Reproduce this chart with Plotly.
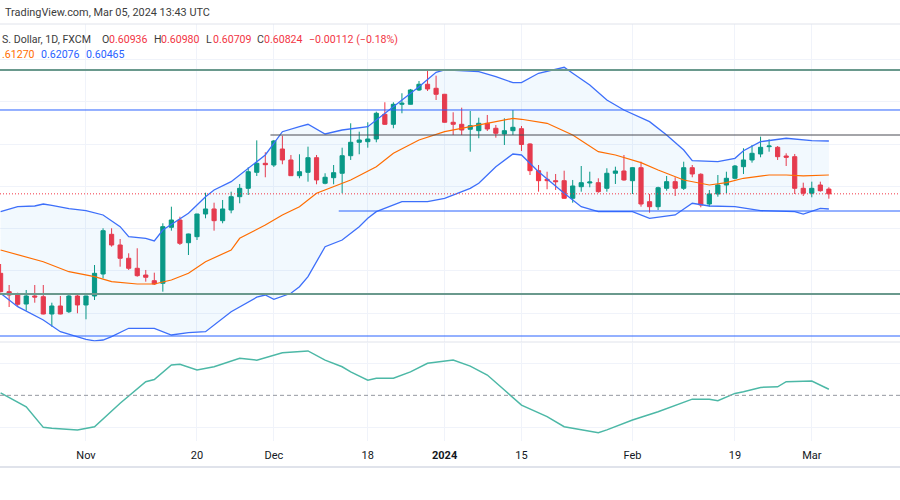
import plotly.graph_objects as go

# ---------------- data ----------------
dates = [
    "2023-10-18", "2023-10-19", "2023-10-20", "2023-10-23", "2023-10-24", "2023-10-25", "2023-10-26", "2023-10-27", "2023-10-30", "2023-10-31",
    "2023-11-01", "2023-11-02", "2023-11-03", "2023-11-06", "2023-11-07", "2023-11-08", "2023-11-09", "2023-11-10", "2023-11-13", "2023-11-14",
    "2023-11-15", "2023-11-16", "2023-11-17", "2023-11-20", "2023-11-21", "2023-11-22", "2023-11-23", "2023-11-24", "2023-11-27", "2023-11-28",
    "2023-11-29", "2023-11-30", "2023-12-01", "2023-12-04", "2023-12-05", "2023-12-06", "2023-12-07", "2023-12-08", "2023-12-11", "2023-12-12",
    "2023-12-13", "2023-12-14", "2023-12-15", "2023-12-18", "2023-12-19", "2023-12-20", "2023-12-21", "2023-12-22", "2023-12-26", "2023-12-27",
    "2023-12-28", "2023-12-29", "2024-01-02", "2024-01-03", "2024-01-04", "2024-01-05", "2024-01-08", "2024-01-09", "2024-01-10", "2024-01-11",
    "2024-01-12", "2024-01-15", "2024-01-16", "2024-01-17", "2024-01-18", "2024-01-19", "2024-01-22", "2024-01-23", "2024-01-24", "2024-01-25",
    "2024-01-26", "2024-01-29", "2024-01-30", "2024-01-31", "2024-02-01", "2024-02-02", "2024-02-05", "2024-02-06", "2024-02-07", "2024-02-08",
    "2024-02-09", "2024-02-12", "2024-02-13", "2024-02-14", "2024-02-15", "2024-02-16", "2024-02-19", "2024-02-20", "2024-02-21", "2024-02-22",
    "2024-02-23", "2024-02-26", "2024-02-27", "2024-02-28", "2024-02-29", "2024-03-01", "2024-03-04", "2024-03-05",
]

opens = [
    0.58941, 0.58506, 0.58444, 0.58214, 0.58404, 0.58387, 0.57977, 0.58167, 0.58032, 0.58404,
    0.58191, 0.58404, 0.58925, 0.59865, 0.59612, 0.59297, 0.59060, 0.58901, 0.58766, 0.58705,
    0.60031, 0.60204, 0.59666, 0.59809, 0.60346, 0.60465, 0.60188, 0.60441, 0.60756, 0.60955,
    0.61334, 0.61547, 0.61507, 0.61886, 0.61626, 0.61254, 0.61334, 0.61680, 0.61074, 0.61206,
    0.61311, 0.61727, 0.62045, 0.62059, 0.62123, 0.62708, 0.62471, 0.62945, 0.62945, 0.63284,
    0.63419, 0.63324, 0.63182, 0.62519, 0.62471, 0.62353, 0.62320, 0.62495, 0.62377, 0.62242,
    0.62320, 0.62367, 0.62005, 0.61372, 0.61168, 0.61135, 0.61135, 0.60718, 0.60993, 0.61081,
    0.61088, 0.60955, 0.61311, 0.61365, 0.61135, 0.61443, 0.60638, 0.60519, 0.60955, 0.61112,
    0.60955, 0.61443, 0.61287, 0.60583, 0.60820, 0.61033, 0.61192, 0.61467, 0.61626, 0.61768,
    0.61941, 0.61926, 0.61720, 0.61704, 0.60955, 0.60837, 0.61033, 0.60936,
]
highs = [
    0.59162, 0.58664, 0.58482, 0.58546, 0.58664, 0.58664, 0.58245, 0.58404, 0.58427, 0.58468,
    0.58410, 0.59138, 0.60008, 0.60008, 0.59754, 0.59415, 0.59534, 0.59020, 0.58956, 0.60126,
    0.60519, 0.60282, 0.59880, 0.60350, 0.60851, 0.60614, 0.60678, 0.60875, 0.61057, 0.61453,
    0.62090, 0.61808, 0.62099, 0.62201, 0.61744, 0.61761, 0.61941, 0.61744, 0.61311, 0.61507,
    0.61917, 0.62495, 0.62296, 0.62519, 0.62770, 0.62993, 0.62993, 0.63206, 0.63308, 0.63497,
    0.63734, 0.63623, 0.63190, 0.62756, 0.62865, 0.62786, 0.62628, 0.62692, 0.62455, 0.62613,
    0.62810, 0.62431, 0.62021, 0.61507, 0.61348, 0.61294, 0.61372, 0.61152, 0.61483, 0.61348,
    0.61192, 0.61429, 0.61467, 0.61744, 0.61453, 0.61585, 0.60820, 0.60993, 0.61247, 0.61216,
    0.61585, 0.61507, 0.61311, 0.60915, 0.61270, 0.61348, 0.61507, 0.61903, 0.61981, 0.62178,
    0.62116, 0.61957, 0.61784, 0.61768, 0.61088, 0.61112, 0.61112, 0.60980,
]
lows = [
    0.58490, 0.58143, 0.58143, 0.58056, 0.58245, 0.57970, 0.57676, 0.57970, 0.58001, 0.57994,
    0.57852, 0.58309, 0.58823, 0.59572, 0.59098, 0.59020, 0.58861, 0.58743, 0.58664, 0.58506,
    0.59951, 0.59612, 0.59375, 0.59730, 0.60244, 0.59951, 0.60126, 0.60363, 0.60600, 0.60796,
    0.61247, 0.61216, 0.61460, 0.61524, 0.61250, 0.61192, 0.61112, 0.61050, 0.61050, 0.61050,
    0.60837, 0.61626, 0.61761, 0.61917, 0.62045, 0.62455, 0.62377, 0.62732, 0.62941, 0.63260,
    0.63260, 0.63047, 0.62510, 0.62218, 0.62218, 0.61822, 0.62140, 0.62313, 0.62154, 0.61981,
    0.62218, 0.61839, 0.61270, 0.60875, 0.60932, 0.60915, 0.60710, 0.60614, 0.60875, 0.60979,
    0.60851, 0.60875, 0.61057, 0.61135, 0.60820, 0.60519, 0.60377, 0.60441, 0.60898, 0.60773,
    0.60915, 0.61216, 0.60505, 0.60519, 0.60756, 0.60837, 0.61168, 0.61294, 0.61562, 0.61690,
    0.61822, 0.61626, 0.61483, 0.60820, 0.60773, 0.60742, 0.60875, 0.60709,
]
closes = [
    0.58506, 0.58427, 0.58207, 0.58404, 0.58380, 0.57977, 0.58167, 0.57977, 0.58404, 0.58191,
    0.58404, 0.58941, 0.59951, 0.59612, 0.59297, 0.59060, 0.58885, 0.58847, 0.58688, 0.60046,
    0.60204, 0.59652, 0.59873, 0.60346, 0.60465, 0.60188, 0.60465, 0.60756, 0.60955, 0.61348,
    0.61547, 0.61514, 0.62076, 0.61626, 0.61254, 0.61348, 0.61680, 0.61152, 0.61216, 0.61325,
    0.61727, 0.62045, 0.62099, 0.62123, 0.62732, 0.62471, 0.62945, 0.62969, 0.63284, 0.63419,
    0.63308, 0.63182, 0.62519, 0.62471, 0.62336, 0.62438, 0.62495, 0.62360, 0.62258, 0.62320,
    0.62400, 0.61993, 0.61372, 0.61135, 0.61135, 0.61112, 0.60718, 0.61010, 0.61088, 0.61104,
    0.60875, 0.61311, 0.61365, 0.61152, 0.61443, 0.60583, 0.60519, 0.60969, 0.61112, 0.60955,
    0.61443, 0.61294, 0.60560, 0.60820, 0.61033, 0.61192, 0.61483, 0.61626, 0.61784, 0.61926,
    0.61957, 0.61704, 0.61690, 0.60955, 0.60837, 0.60955, 0.60898, 0.60824,
]

upper_dates = [
    "2023-10-18", "2023-10-20", "2023-10-24", "2023-10-25", "2023-10-26", "2023-10-30", "2023-11-01", "2023-11-03",
    "2023-11-07", "2023-11-08", "2023-11-10", "2023-11-13", "2023-11-14", "2023-11-16", "2023-11-17", "2023-11-21",
    "2023-11-22", "2023-11-24", "2023-11-28", "2023-11-30", "2023-12-01", "2023-12-04", "2023-12-06", "2023-12-07",
    "2023-12-11", "2023-12-13", "2023-12-18", "2023-12-19", "2023-12-21", "2023-12-27", "2023-12-29", "2024-01-02",
    "2024-01-08", "2024-01-10", "2024-01-12", "2024-01-15", "2024-01-17", "2024-01-22", "2024-01-23", "2024-01-25",
    "2024-01-29", "2024-01-31", "2024-02-05", "2024-02-07", "2024-02-09", "2024-02-12", "2024-02-15", "2024-02-19",
    "2024-02-20", "2024-02-22", "2024-02-27", "2024-03-01", "2024-03-05",
]
upper_vals = [
    0.60401, 0.60519, 0.60536, 0.60583, 0.60553, 0.60472, 0.60425, 0.60323,
    0.60046, 0.59809, 0.59771, 0.59707, 0.59967, 0.60221, 0.60363, 0.60756,
    0.60915, 0.61112, 0.61429, 0.61744, 0.62021, 0.62296, 0.62415, 0.62471,
    0.62242, 0.62336, 0.62415, 0.62573, 0.62888, 0.63362, 0.63703, 0.63758,
    0.63717, 0.63599, 0.63457, 0.63457, 0.63680, 0.63822, 0.63680, 0.63402,
    0.63047, 0.62810, 0.62533, 0.62218, 0.61863, 0.61609, 0.61585, 0.61666,
    0.61846, 0.62059, 0.62140, 0.62083, 0.62076,
]

basis_dates = [
    "2023-10-18", "2023-10-20", "2023-10-25", "2023-10-30", "2023-11-02", "2023-11-06", "2023-11-09", "2023-11-13",
    "2023-11-15", "2023-11-17", "2023-11-21", "2023-11-24", "2023-11-27", "2023-11-30", "2023-12-04", "2023-12-06",
    "2023-12-08", "2023-12-14", "2023-12-19", "2023-12-21", "2023-12-27", "2024-01-02", "2024-01-05", "2024-01-10",
    "2024-01-12", "2024-01-15", "2024-01-18", "2024-01-23", "2024-01-25", "2024-01-26", "2024-01-30", "2024-02-02",
    "2024-02-06", "2024-02-09", "2024-02-14", "2024-02-16", "2024-02-20", "2024-02-23", "2024-02-27", "2024-02-29",
    "2024-03-05",
]
basis_vals = [
    0.59493, 0.59375, 0.59216, 0.58979, 0.58861, 0.58743, 0.58688, 0.58688,
    0.58783, 0.58941, 0.59216, 0.59493, 0.59771, 0.60086, 0.60323, 0.60519,
    0.60837, 0.61152, 0.61467, 0.61784, 0.62099, 0.62296, 0.62415, 0.62533,
    0.62613, 0.62590, 0.62495, 0.62218, 0.61941, 0.61822, 0.61744, 0.61562,
    0.61389, 0.61152, 0.61033, 0.61088, 0.61192, 0.61270, 0.61270, 0.61247,
    0.61270,
]

lower_dates = [
    "2023-10-18", "2023-10-20", "2023-10-25", "2023-10-27", "2023-11-01", "2023-11-02", "2023-11-03", "2023-11-06",
    "2023-11-08", "2023-11-13", "2023-11-15", "2023-11-17", "2023-11-21", "2023-11-24", "2023-11-29", "2023-11-30",
    "2023-12-01", "2023-12-05", "2023-12-06", "2023-12-07", "2023-12-11", "2023-12-13", "2023-12-15", "2023-12-18",
    "2023-12-19", "2023-12-22", "2023-12-28", "2024-01-02", "2024-01-05", "2024-01-08", "2024-01-10", "2024-01-12",
    "2024-01-15", "2024-01-17", "2024-01-22", "2024-01-24", "2024-01-26", "2024-02-01", "2024-02-05", "2024-02-08",
    "2024-02-12", "2024-02-14", "2024-02-19", "2024-02-22", "2024-02-28", "2024-02-29", "2024-03-04", "2024-03-05",
]
lower_vals = [
    0.58468, 0.58151, 0.57835, 0.57558, 0.57378, 0.57340, 0.57361, 0.57440,
    0.57639, 0.57639, 0.57480, 0.57534, 0.57558, 0.58032, 0.58375, 0.58427,
    0.58326, 0.58468, 0.58624, 0.58861, 0.59572, 0.59730, 0.60046, 0.60244,
    0.60401, 0.60638, 0.60638, 0.60718, 0.60955, 0.61074, 0.61467, 0.61768,
    0.61744, 0.61348, 0.60837, 0.60519, 0.60401, 0.60401, 0.60244, 0.60323,
    0.60600, 0.60536, 0.60519, 0.60425, 0.60401, 0.60346, 0.60481, 0.60465,
]

osc_dates = [
    "2023-10-18", "2023-10-23", "2023-10-25", "2023-10-26", "2023-10-31", "2023-11-02", "2023-11-07", "2023-11-10",
    "2023-11-13", "2023-11-15", "2023-11-16", "2023-11-20", "2023-11-22", "2023-11-27", "2023-11-29", "2023-12-04",
    "2023-12-07", "2023-12-11", "2023-12-13", "2023-12-14", "2023-12-18", "2023-12-19", "2023-12-21", "2023-12-26",
    "2023-12-28", "2024-01-03", "2024-01-05", "2024-01-09", "2024-01-11", "2024-01-15", "2024-01-18", "2024-01-22",
    "2024-01-23", "2024-01-26", "2024-01-29", "2024-02-01", "2024-02-06", "2024-02-08", "2024-02-12", "2024-02-14",
    "2024-02-15", "2024-02-19", "2024-02-20", "2024-02-22", "2024-02-26", "2024-02-27", "2024-03-01", "2024-03-05",
]
osc_vals = [
    0.08, -0.36, -1.01, -1.04, -1.09, -0.99, -0.25, 0.43,
    0.50, 0.96, 0.98, 0.80, 0.90, 1.17, 1.11, 1.34,
    1.40, 1.11, 0.90, 0.74, 0.48, 0.54, 0.54, 0.74,
    1.01, 1.11, 0.92, 0.64, 0.17, -0.31, -0.67, -0.99,
    -1.04, -1.18, -1.09, -0.78, -0.52, -0.31, -0.12, -0.12,
    -0.17, 0.06, 0.11, 0.25, 0.27, 0.43, 0.45, 0.19,
]

# horizontal drawing levels
level_green = [0.63758, 0.58451]
level_blue = [0.62810, 0.57456]
level_dark = 0.62218
level_dark_start = "2023-12-01"
level_blue_partial = 0.60417
level_blue_partial_start = "2023-12-13"

tick_dates = ["2023-11-01", "2023-11-20", "2023-12-01", "2023-12-18", "2024-01-02",
              "2024-01-15", "2024-02-01", "2024-02-19", "2024-03-01"]
tick_labels = ["Nov", "20", "Dec", "18", "<b>2024</b>", "15", "Feb", "19", "Mar"]
price_grid = [0.58, 0.59, 0.60, 0.61, 0.62, 0.63, 0.64]
osc_grid = [-1, 1]

# ---------------- figure ----------------
UP = "#089981"
DOWN = "#F23645"
BAND = "#3d6ffa"
GRID = "#f0f3fa"

fig = go.Figure()

fig.add_trace(go.Scatter(
    x=upper_dates + lower_dates[::-1], y=upper_vals + lower_vals[::-1],
    fill="toself", fillcolor="rgba(33,150,243,0.06)", mode="lines",
    line=dict(width=0), hoverinfo="skip", showlegend=False, xaxis="x", yaxis="y"))
fig.add_trace(go.Scatter(x=upper_dates, y=upper_vals, mode="lines",
                         line=dict(color=BAND, width=1.3), showlegend=False, xaxis="x", yaxis="y"))
fig.add_trace(go.Scatter(x=lower_dates, y=lower_vals, mode="lines",
                         line=dict(color=BAND, width=1.3), showlegend=False, xaxis="x", yaxis="y"))
fig.add_trace(go.Scatter(x=basis_dates, y=basis_vals, mode="lines",
                         line=dict(color="#FF6D00", width=1.2), showlegend=False, xaxis="x", yaxis="y"))

fig.add_trace(go.Candlestick(
    x=dates, open=opens, high=highs, low=lows, close=closes,
    increasing=dict(line=dict(color=UP, width=1), fillcolor=UP),
    decreasing=dict(line=dict(color=DOWN, width=1), fillcolor=DOWN),
    whiskerwidth=0, showlegend=False, xaxis="x", yaxis="y"))

fig.add_trace(go.Scatter(x=osc_dates, y=osc_vals, mode="lines",
                         line=dict(color="#4cb8a6", width=1.5), showlegend=False,
                         xaxis="x2", yaxis="y2"))

shapes = []
for lv in level_green:
    shapes.append(dict(type="line", xref="paper", x0=0, x1=1, yref="y", y0=lv, y1=lv,
                       line=dict(color="#6a998d", width=2)))
for lv in level_blue:
    shapes.append(dict(type="line", xref="paper", x0=0, x1=1, yref="y", y0=lv, y1=lv,
                       line=dict(color="#2962FF", width=1)))
n = len(dates)
shapes.append(dict(type="line", xref="x", x0=dates.index(level_dark_start) - 0.4, x1=n + 20,
                   yref="y", y0=level_dark, y1=level_dark, line=dict(color="#4a4c55", width=1.2)))
shapes.append(dict(type="line", xref="x", x0=dates.index(level_blue_partial_start) - 0.4, x1=n + 20,
                   yref="y", y0=level_blue_partial, y1=level_blue_partial,
                   line=dict(color="#2962FF", width=1)))
# last price dotted line
shapes.append(dict(type="line", xref="paper", x0=0, x1=1, yref="y", y0=closes[-1], y1=closes[-1],
                   line=dict(color=DOWN, width=1, dash="1px,2px")))
# oscillator zero dashed line
shapes.append(dict(type="line", xref="paper", x0=0, x1=1, yref="y2", y0=0, y1=0,
                   line=dict(color="#9598a1", width=1, dash="4px,3px")))
# panel borders
PLOT_BOTTOM = 441
PLOT_H = 417
def py(pix):
    return (PLOT_BOTTOM - pix) / PLOT_H
for pix, w in [(24, 1), (342, 1), (467, 2)]:
    shapes.append(dict(type="line", xref="paper", x0=0, x1=1, yref="paper", y0=py(pix), y1=py(pix),
                       line=dict(color="#e0e3eb", width=w)))

annotations = []
def add_text(txt, px, pix, color, size=10.6):
    annotations.append(dict(text=txt, xref="paper", yref="paper", x=px / 900, y=py(pix),
                            xanchor="left", yanchor="middle", showarrow=False,
                            font=dict(color=color, size=size, family="Roboto")))

add_text("TradingView.com, Mar 05, 2024 13:43 UTC", 3, 13, "#3c3c3c", 10.9)
add_text("S. Dollar, 1D, FXCM", 0, 39, "#3c3c3c")
for lbl, val, xl, xv in [("O", "0.60936", 100, 106.5), ("H", "0.60980", 151.5, 158.5),
                         ("L", "0.60709", 204, 210.5), ("C", "0.60824", 255, 261.5)]:
    add_text(lbl, xl, 39, "#3c3c3c")
    add_text(val, xv, 39, DOWN)
add_text("\u22120.00112 (\u22120.18%)", 306.5, 39, DOWN)
add_text(".61270", 0, 54, "#FF6D00")
add_text("0.62076", 38.5, 54, "#2962FF")
add_text("0.60465", 84, 54, "#2962FF")

xr = [-0.07, 105.33]
fig.update_layout(
    width=900, height=500,
    margin=dict(l=0, r=0, t=24, b=59),
    paper_bgcolor="white", plot_bgcolor="white",
    showlegend=False,
    font=dict(family="Roboto", size=11, color="#131722"),
    shapes=shapes, annotations=annotations,
    xaxis=dict(type="category", categoryorder="array", categoryarray=dates, range=xr,
               anchor="y", tickvals=tick_dates, showticklabels=False, showgrid=True,
               gridcolor=GRID, gridwidth=1, zeroline=False, showline=False,
               rangeslider=dict(visible=False), ticks=""),
    xaxis2=dict(type="category", categoryorder="array", categoryarray=dates, range=xr,
                matches="x", anchor="y2", tickvals=tick_dates, ticktext=tick_labels,
                showgrid=True, gridcolor=GRID, gridwidth=1, zeroline=False, showline=False,
                ticks="", ticklabelstandoff=6, tickfont=dict(size=11, color="#131722")),
    yaxis=dict(domain=[py(342), 1], range=[0.57314, 0.64847], tickvals=price_grid,
               showticklabels=False, showgrid=True, gridcolor=GRID, zeroline=False),
    yaxis2=dict(domain=[0, py(343)], range=[-1.44, 1.65], tickvals=osc_grid,
                showticklabels=False, showgrid=True, gridcolor=GRID, zeroline=False),
)

fig.write_html("out.html", config={"displayModeBar": False},
               post_script="document.body.style.margin='0';document.body.style.overflow='hidden';")
